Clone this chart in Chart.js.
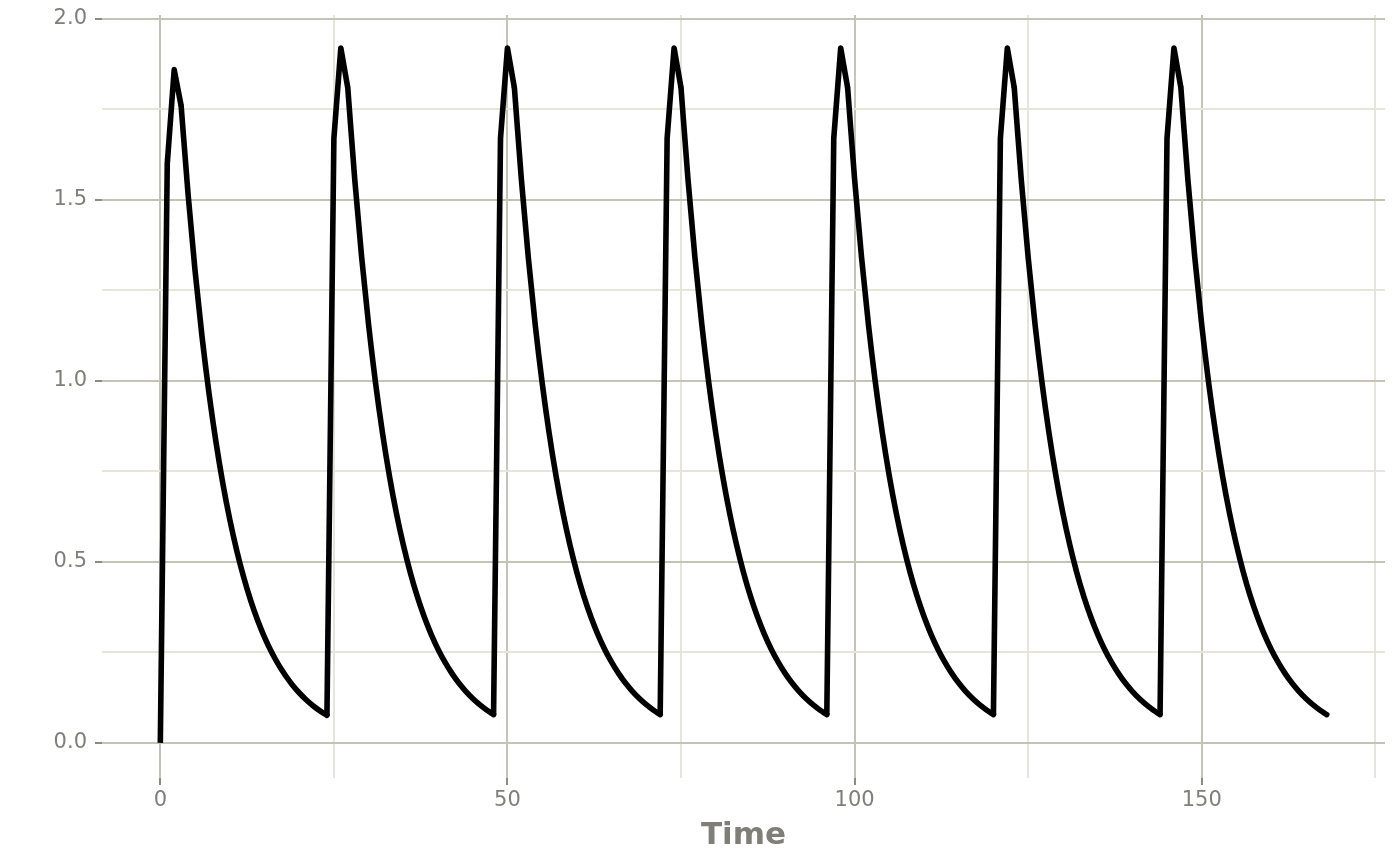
<!DOCTYPE html>
<html>
<head>
<meta charset="utf-8">
<title>Concentration over time</title>
<script src="https://cdn.jsdelivr.net/npm/chart.js@4.4.1/dist/chart.umd.min.js"></script>
<style>
  html, body { margin: 0; padding: 0; background: #ffffff; }
  #chart { display: block; }
</style>
</head>
<body>
<canvas id="chart" width="1400" height="865"></canvas>
<script>
// hours since first dose (one point per hour, dose every 24 h)
const hours = [
  0, 1, 2, 3, 4, 5, 6, 7, 8, 9, 10, 11, 12, 13, 14, 15, 16, 17, 18, 19, 20, 21, 22, 23, 24,
  25, 26, 27, 28, 29, 30, 31, 32, 33, 34, 35, 36, 37, 38, 39, 40, 41, 42, 43, 44, 45, 46, 47, 48,
  49, 50, 51, 52, 53, 54, 55, 56, 57, 58, 59, 60, 61, 62, 63, 64, 65, 66, 67, 68, 69, 70, 71, 72,
  73, 74, 75, 76, 77, 78, 79, 80, 81, 82, 83, 84, 85, 86, 87, 88, 89, 90, 91, 92, 93, 94, 95, 96,
  97, 98, 99, 100, 101, 102, 103, 104, 105, 106, 107, 108, 109, 110, 111, 112, 113, 114, 115, 116, 117, 118, 119, 120,
  121, 122, 123, 124, 125, 126, 127, 128, 129, 130, 131, 132, 133, 134, 135, 136, 137, 138, 139, 140, 141, 142, 143, 144,
  145, 146, 147, 148, 149, 150, 151, 152, 153, 154, 155, 156, 157, 158, 159, 160, 161, 162, 163, 164, 165, 166, 167, 168
];

// concentration, one row per day
const conc = [
  0, 1.60, 1.86, 1.760, 1.5155, 1.3050, 1.1237, 0.9677, 0.8333, 0.7175, 0.6179, 0.5321, 0.4582, 0.3945, 0.3397, 0.2925, 0.2519, 0.2169, 0.1868, 0.1608, 0.1385, 0.1193, 0.1027, 0.0884, 0.0761,
  1.67, 1.92, 1.81, 1.558, 1.3414, 1.1551, 0.9947, 0.8566, 0.7375, 0.6351, 0.5469, 0.4710, 0.4055, 0.3492, 0.3007, 0.2589, 0.2230, 0.1920, 0.1653, 0.1424, 0.1226, 0.1056, 0.0909, 0.0782,
  1.67, 1.92, 1.81, 1.558, 1.3414, 1.1551, 0.9947, 0.8566, 0.7375, 0.6351, 0.5469, 0.4710, 0.4055, 0.3492, 0.3007, 0.2589, 0.2230, 0.1920, 0.1653, 0.1424, 0.1226, 0.1056, 0.0909, 0.0782,
  1.67, 1.92, 1.81, 1.558, 1.3414, 1.1551, 0.9947, 0.8566, 0.7375, 0.6351, 0.5469, 0.4710, 0.4055, 0.3492, 0.3007, 0.2589, 0.2230, 0.1920, 0.1653, 0.1424, 0.1226, 0.1056, 0.0909, 0.0782,
  1.67, 1.92, 1.81, 1.558, 1.3414, 1.1551, 0.9947, 0.8566, 0.7375, 0.6351, 0.5469, 0.4710, 0.4055, 0.3492, 0.3007, 0.2589, 0.2230, 0.1920, 0.1653, 0.1424, 0.1226, 0.1056, 0.0909, 0.0782,
  1.67, 1.92, 1.81, 1.558, 1.3414, 1.1551, 0.9947, 0.8566, 0.7375, 0.6351, 0.5469, 0.4710, 0.4055, 0.3492, 0.3007, 0.2589, 0.2230, 0.1920, 0.1653, 0.1424, 0.1226, 0.1056, 0.0909, 0.0782,
  1.67, 1.92, 1.81, 1.558, 1.3414, 1.1551, 0.9947, 0.8566, 0.7375, 0.6351, 0.5469, 0.4710, 0.4055, 0.3492, 0.3007, 0.2589, 0.2230, 0.1920, 0.1653, 0.1424, 0.1226, 0.1056, 0.0909, 0.0782
];

const doseEvery = 24;   // hours between doses
const risePhase = 3;    // hours after each dose drawn with straight segments

// grid breaks: labelled (major) ones and the in-between (minor) ones
const xMajor = [0, 50, 100, 150];
const xMinor = [25, 75, 125, 175];
const yMajor = [0, 0.5, 1.0, 1.5, 2.0];
const yMinor = [0.25, 0.75, 1.25, 1.75];
const xTitle = 'Time';

const GRID_MAJOR = '#c3c4b6';
const GRID_MINOR = '#e5e6d9';
const TICK_MARK = '#8b8b84';
const TEXT = '#7f7f78';
const LINE_W = 5.6;

const isMajor = (list, v) => list.some(m => Math.abs(m - v) < 1e-9);

function tickList(major, minor) {
  return major.concat(minor).sort((a, b) => a - b).map(v => ({ value: v }));
}

// the same points split in two: the absorption part (straight) and the
// elimination part (smoothed), nulls break each into per-dose pieces
const risePts = hours.map((h, i) => ({ x: h, y: (h % doseEvery) <= risePhase ? conc[i] : null }));
const decayPts = hours.map((h, i) => {
  const p = h % doseEvery;
  const keep = h >= risePhase && (p >= risePhase || p === 0);
  return { x: h, y: keep ? conc[i] : null };
});

new Chart(document.getElementById('chart'), {
  type: 'line',
  data: {
    datasets: [{
      data: risePts,
      borderColor: '#000000',
      borderWidth: LINE_W,
      borderJoinStyle: 'round',
      borderCapStyle: 'butt',
      pointRadius: 0,
      tension: 0,
      spanGaps: false,
      fill: false
    }, {
      data: decayPts,
      borderColor: '#000000',
      borderWidth: LINE_W,
      borderJoinStyle: 'round',
      borderCapStyle: 'round',
      cubicInterpolationMode: 'monotone',
      pointRadius: 0,
      spanGaps: false,
      fill: false
    }]
  },
  options: {
    responsive: false,
    animation: false,
    devicePixelRatio: 1,
    layout: { padding: { top: 15, right: 15, left: 0, bottom: 0 } },
    plugins: { legend: { display: false }, tooltip: { enabled: false } },
    scales: {
      x: {
        type: 'linear',
        min: -8.4,
        max: 176.4,
        afterBuildTicks: s => { s.ticks = tickList(xMajor, xMinor); },
        afterFit: s => { s.height = 87; s.paddingLeft = 0; s.paddingRight = 0; },
        border: { display: false },
        grid: {
          color: c => isMajor(xMajor, c.tick.value) ? GRID_MAJOR : GRID_MINOR,
          lineWidth: 2,
          tickLength: 7,
          tickWidth: 2,
          tickColor: c => isMajor(xMajor, c.tick.value) ? TICK_MARK : 'rgba(0,0,0,0)'
        },
        ticks: {
          autoSkip: false,
          maxRotation: 0,
          padding: 3,
          color: TEXT,
          font: { family: 'DejaVu Sans', size: 21 },
          callback: v => isMajor(xMajor, v) ? String(v) : ''
        },
        title: {
          display: true,
          text: xTitle,
          color: TEXT,
          font: { family: 'DejaVu Sans', size: 31, weight: 'bold' },
          padding: { top: 0, bottom: 10 }
        }
      },
      y: {
        type: 'linear',
        min: -0.097,
        max: 2.011,
        afterBuildTicks: s => { s.ticks = tickList(yMajor, yMinor); },
        afterFit: s => { s.width = 102; s.paddingTop = 0; s.paddingBottom = 0; },
        border: { display: false },
        grid: {
          color: c => isMajor(yMajor, c.tick.value) ? GRID_MAJOR : GRID_MINOR,
          lineWidth: 2,
          tickLength: 7,
          tickWidth: 2,
          tickColor: c => isMajor(yMajor, c.tick.value) ? TICK_MARK : 'rgba(0,0,0,0)'
        },
        ticks: {
          autoSkip: false,
          padding: 8,
          color: TEXT,
          font: { family: 'DejaVu Sans', size: 21 },
          callback: v => isMajor(yMajor, v) ? v.toFixed(1) : ''
        }
      }
    }
  }
});
</script>
</body>
</html>
